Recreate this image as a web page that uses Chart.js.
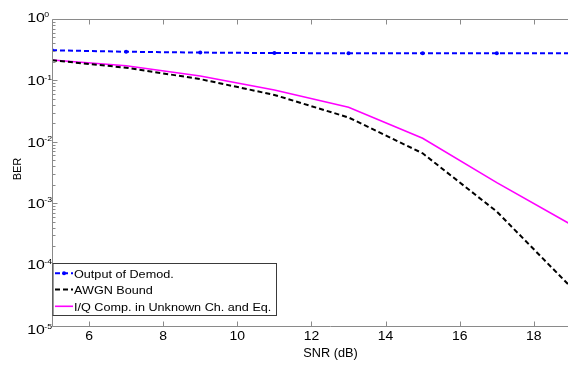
<!DOCTYPE html>
<html>
<head>
<meta charset="utf-8">
<script src="https://cdn.jsdelivr.net/npm/chart.js@4/dist/chart.umd.min.js"></script>
<style>
  html, body { margin: 0; padding: 0; background: #fff; width: 568px; height: 365px; overflow: hidden; }
  #wrap { position: absolute; left: 0; top: 0; width: 640px; height: 365px; }
</style>
</head>
<body>
<div id="wrap"><canvas id="ber" width="640" height="365"></canvas></div>
<script>
// SNR points (dB) and measured bit error rates
const snrDb      = [5, 7, 9, 11, 13, 15, 17, 19];
const berDemod   = [0.31, 0.293, 0.284, 0.279, 0.277, 0.277, 0.276, 0.276];
const berAwgn    = [0.213, 0.161, 0.105, 0.058, 0.0249, 0.0065, 0.00073, 0.000043];
const berIqComp  = [0.215, 0.173, 0.118, 0.070, 0.0365, 0.0114, 0.00216, 0.00045];
const seriesNames = ['Output of Demod.', 'AWGN Bound', 'I/Q Comp. in Unknown Ch. and Eq.'];
const xTickValues = [6, 8, 10, 12, 14, 16, 18, 20];
const yDecadeExps = [0, -1, -2, -3, -4, -5];
const xTitle = 'SNR (dB)';
const yTitle = 'BER';

const FONT = '"Liberation Sans", Arial, Helvetica, sans-serif';
const AXIS_COLOR = '#8a8a8a';

const toPoints = ys => snrDb.map((x, i) => ({ x, y: ys[i] }));

function stretchedText(ctx, str, x, y, sizePx, sx, align, baseline) {
  ctx.save();
  ctx.translate(x, y);
  ctx.scale(sx, 1);
  ctx.font = sizePx + 'px ' + FONT;
  ctx.textAlign = align;
  ctx.textBaseline = baseline;
  ctx.fillStyle = '#000';
  ctx.fillText(str, 0, 0);
  ctx.restore();
}

// Axes box, inward tick marks, tick labels and axis titles
const axesPlugin = {
  id: 'matlabAxes',
  afterDatasetsDraw(chart) {
    const { ctx, chartArea: a, scales: { x, y } } = chart;
    const L = Math.round(a.left) + 0.5, R = Math.round(a.right) + 0.5;
    const T = Math.round(a.top) + 0.5, B = Math.round(a.bottom) + 0.5;
    ctx.save();
    ctx.strokeStyle = AXIS_COLOR;
    ctx.lineWidth = 1;
    ctx.beginPath();
    ctx.rect(L, T, R - L, B - T);
    ctx.stroke();

    // x ticks (bottom and top)
    ctx.beginPath();
    xTickValues.forEach(v => {
      const px = Math.round(x.getPixelForValue(v)) + 0.5;
      ctx.moveTo(px, B); ctx.lineTo(px, B - 5);
      ctx.moveTo(px, T); ctx.lineTo(px, T + 5);
    });
    // y ticks, decades and minor steps
    yDecadeExps.forEach(e => {
      for (let m = 1; m <= 9; m++) {
        const v = m * Math.pow(10, e);
        if (v > 1 + 1e-9 || v < 1e-5 - 1e-12) continue;
        const py = Math.round(y.getPixelForValue(v)) + 0.5;
        const len = m === 1 ? 5 : 3;
        ctx.moveTo(L, py); ctx.lineTo(L + len, py);
        ctx.moveTo(R, py); ctx.lineTo(R - len, py);
      }
    });
    ctx.stroke();
    ctx.restore();

    // x tick labels
    xTickValues.forEach(v => {
      const px = x.getPixelForValue(v);
      stretchedText(ctx, String(v), px, B + 13, 12.5, 1.12, 'center', 'alphabetic');
    });
    // y tick labels as 10 with superscript exponent
    yDecadeExps.forEach((e, i) => {
      const py = y.getPixelForValue(Math.pow(10, e));
      let shift = 4.7;
      if (i === 0) shift = 3.2;
      if (i === yDecadeExps.length - 1) shift = 8;
      stretchedText(ctx, '10', 27.2, py + shift, 12.2, 1.3, 'left', 'alphabetic');
      stretchedText(ctx, String(e), 44.3, py + shift - 5.5, 7.6, 1.15, 'left', 'alphabetic');
    });

    // axis titles
    stretchedText(ctx, xTitle, (L + R) / 2, 356.5, 12, 1.06, 'center', 'alphabetic');
    ctx.save();
    ctx.translate(21, (T + B) / 2 - 4);
    ctx.rotate(-Math.PI / 2);
    ctx.font = '11px ' + FONT;
    ctx.textAlign = 'center';
    ctx.textBaseline = 'alphabetic';
    ctx.fillStyle = '#000';
    ctx.fillText(yTitle, 0, 0);
    ctx.restore();

    // legend box in the lower-left corner of the axes
    const boxL = L + 0.5, boxT = 263.5, boxR = 276.5, boxB = 315.5;
    ctx.save();
    ctx.fillStyle = '#fff';
    ctx.fillRect(boxL, boxT, boxR - boxL, boxB - boxT);
    ctx.strokeStyle = '#3a3a3a';
    ctx.lineWidth = 1;
    ctx.strokeRect(boxL, boxT, boxR - boxL, boxB - boxT);
    ctx.restore();
    const rows = [273.3, 289.6, 306.3];
    chart.data.datasets.forEach((ds, i) => {
      const ry = rows[i];
      ctx.save();
      ctx.strokeStyle = ds.borderColor;
      ctx.lineWidth = ds.borderWidth;
      ctx.setLineDash(ds.borderDash || []);
      ctx.beginPath();
      ctx.moveTo(55, ry); ctx.lineTo(73, ry);
      ctx.stroke();
      if (ds.pointRadius > 0) {
        ctx.setLineDash([]);
        ctx.fillStyle = ds.borderColor;
        ctx.beginPath();
        ctx.arc(64, ry, ds.pointRadius, 0, Math.PI * 2);
        ctx.fill();
      }
      ctx.restore();
      stretchedText(ctx, ds.label, 74, ry + 4.2, 11.6, 1.09, 'left', 'alphabetic');
    });
  }
};

new Chart(document.getElementById('ber'), {
  type: 'line',
  data: {
    datasets: [
      {
        label: seriesNames[0],
        data: toPoints(berDemod),
        borderColor: '#0000ff',
        backgroundColor: '#0000ff',
        borderWidth: 2,
        borderDash: [5, 3],
        pointRadius: 2,
        pointBorderWidth: 0,
        fill: false
      },
      {
        label: seriesNames[1],
        data: toPoints(berAwgn),
        borderColor: '#000000',
        borderWidth: 2,
        borderDash: [5, 3],
        pointRadius: 0,
        fill: false
      },
      {
        label: seriesNames[2],
        data: toPoints(berIqComp),
        borderColor: '#ff00ff',
        borderWidth: 1.6,
        pointRadius: 0,
        fill: false
      }
    ]
  },
  options: {
    responsive: false,
    animation: false,
    devicePixelRatio: 1,
    layout: { padding: { left: 52, right: 32, top: 19, bottom: 39 } },
    elements: { line: { tension: 0 } },
    scales: {
      x: { type: 'linear', min: 5, max: 20, display: false },
      y: { type: 'logarithmic', min: 1e-5, max: 1, display: false }
    },
    plugins: { legend: { display: false }, tooltip: { enabled: false } }
  },
  plugins: [axesPlugin]
});
</script>
</body>
</html>
